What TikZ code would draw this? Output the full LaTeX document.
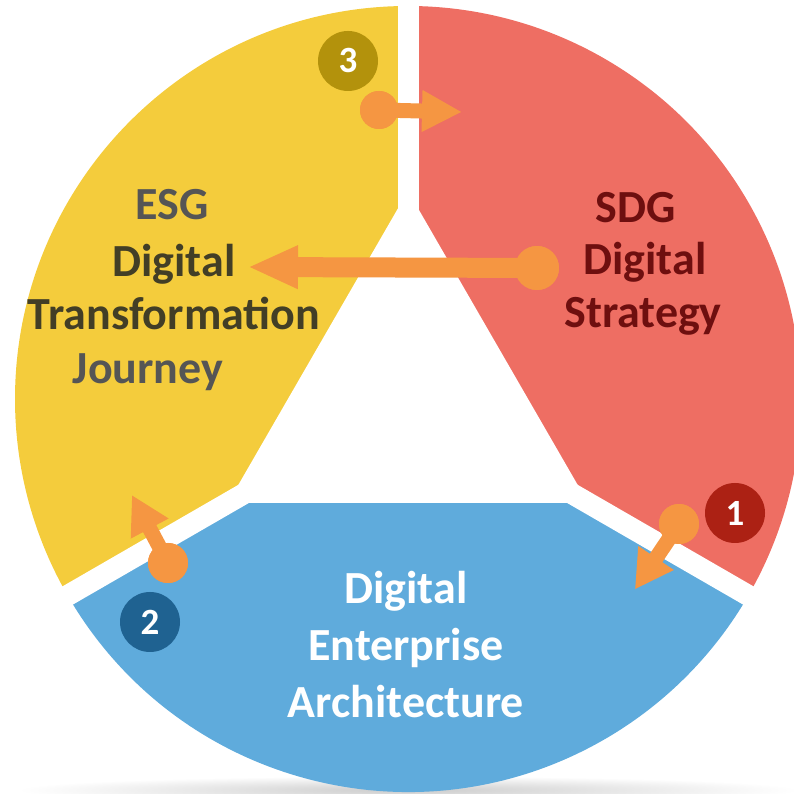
\documentclass[tikz,border=0pt]{standalone}
\usepackage{fontspec}
\setmainfont{Carlito}
\usetikzlibrary{arrows.meta,calc}
\definecolor{yel}{HTML}{F4CC3C}
\definecolor{redseg}{HTML}{EE6E63}
\definecolor{blueseg}{HTML}{5FABDC}
\definecolor{arr}{HTML}{F59642}
\definecolor{bone}{HTML}{AC2114}
\definecolor{btwo}{HTML}{1F6291}
\definecolor{bthree}{HTML}{B3920C}
\definecolor{graytxt}{HTML}{555555}
\definecolor{darktxt}{HTML}{423E26}
\definecolor{redtxt}{HTML}{6E0F0F}
\begin{document}
\begin{tikzpicture}[x=1pt,y=1pt,
  lbl/.style={font=\fontsize{46}{46}\selectfont\bfseries, anchor=base, inner sep=0pt},
  badge/.style={circle, fill=#1, minimum size=60pt, inner sep=0pt, text=white, font=\fontsize{37}{37}\selectfont\bfseries},
  knob/.style={circle, fill=arr, inner sep=0pt, minimum size=#1},
  shaft/.style={draw=arr, line width=#1},
]
\useasboundingbox (0,0) rectangle (793,794);
\coordinate (O) at (408,395);
% soft shadow under the disc
\shade[inner color=black!20, outer color=white] (408,4) ellipse [x radius=390, y radius=14];
% three sectors
\fill[yel] (O) -- ++(90:393) arc[start angle=90, end angle=210, radius=393] -- cycle;
\fill[redseg] (O) -- ++(-30:393) arc[start angle=-30, end angle=90, radius=393] -- cycle;
\fill[blueseg] (O) -- ++(210:393) arc[start angle=210, end angle=330, radius=393] -- cycle;
% central hole and gaps
\fill[white] ($(O)+(90:208)$) -- ($(O)+(210:208)$) -- ($(O)+(330:208)$) -- cycle;
\foreach \a in {90,210,330} \draw[white, line width=21pt] (O) -- ++(\a:420);
% labels
\node[lbl, text=graytxt] (e1) at (172,574) {ESG};
\node[lbl, text=darktxt] (e2) at (174,517) {Digital};
\node[lbl, text=darktxt] (e3) at (174,464) {Transformation};
\node[lbl, text=graytxt] (e4) at (148,410) {Journey};
\node[lbl, text=redtxt] (s1) at (636,571) {SDG};
\node[lbl, text=redtxt] (s2) at (645,519) {Digital};
\node[lbl, text=redtxt] (s3) at (643,466) {Strategy};
\node[lbl, text=white] (d1) at (406,190) {Digital};
\node[lbl, text=white] (d2) at (406,133) {Enterprise};
\node[lbl, text=white] (d3) at (406,76) {Architecture};
% badges
\node[badge=bthree] (b3) at (348,733) {3};
\node[badge=btwo] (b2) at (150,172) {2};
\node[badge=bone] (b1) at (735,281) {1};
% arrows
\node[knob=44pt] (kc) at (537,526) {};
\coordinate (tc) at (248,527);
\draw[shaft=20pt, -{Triangle[length=50pt, width=40pt]}] (kc.center) -- (tc);
\node[knob=44pt] at (kc) {};

\node[knob=38pt] (k3) at (379,684) {};
\coordinate (t3) at (462,682);
\draw[shaft=15pt, -{Triangle[length=40pt, width=39pt]}] (k3.center) -- (t3);
\node[knob=38pt] at (k3) {};

\node[knob=40pt] (k2) at (168,231) {};
\coordinate (t2) at ($(k2)+(118:77)$);
\draw[shaft=15pt, -{Triangle[length=38pt, width=40pt]}] (k2.center) -- (t2);
\node[knob=40pt] at (k2) {};

\node[knob=40pt] (k1) at (679,270) {};
\coordinate (t1) at ($(k1)+(236:79)$);
\draw[shaft=15pt, -{Triangle[length=38pt, width=40pt]}] (k1.center) -- (t1);
\node[knob=40pt] at (k1) {};
\end{tikzpicture}
\end{document}
